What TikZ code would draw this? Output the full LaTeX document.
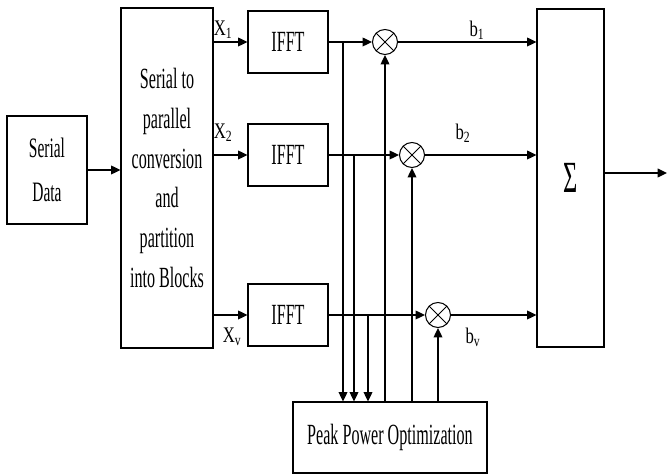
\documentclass[tikz,border=0pt]{standalone}
\usepackage{fontspec}
\newfontfamily\narrowserif{Liberation Serif}[FakeStretch=0.55]
\newfontfamily\labelserif{Liberation Serif}[FakeStretch=0.75]
\usetikzlibrary{arrows.meta, positioning}

\begin{document}
\begin{tikzpicture}[
  x=0.3mm, y=-0.3mm,
  >={Triangle[length=2.8mm, width=2.6mm]},
  every node/.style={font=\narrowserif\fontsize{25}{34}\selectfont},
  blockstyle/.style={draw, line width=0.9pt, align=center, inner sep=2pt},
  mixstyle/.style={draw, circle, line width=0.9pt, minimum size=7.5mm, inner sep=0pt,
    path picture={\draw[line width=0.8pt]
      (path picture bounding box.north west) -- (path picture bounding box.south east)
      (path picture bounding box.north east) -- (path picture bounding box.south west);}},
  link/.style={line width=1.2pt},
  tag/.style={font=\labelserif\fontsize{19}{19}\selectfont}
]
\useasboundingbox (0,0) rectangle (668,476);
% blocks
\node[blockstyle, minimum width=24mm, minimum height=32.4mm,
      font=\narrowserif\fontsize{24}{38}\selectfont] (serial) at (47,170) {Serial\\Data};
\node[blockstyle, minimum width=27.6mm, minimum height=102mm] (sp) at (167,178)
  {Serial to\\parallel\\conversion\\and\\partition\\into Blocks};
\foreach \n/\y in {1/42, 2/155, 3/315}
  \node[blockstyle, minimum width=24mm, minimum height=18.6mm] (ifft\n) at (288,\y) {IFFT};
\node[mixstyle] (mix1) at (385,42) {};
\node[mixstyle] (mix2) at (412,155) {};
\node[mixstyle] (mix3) at (438,315) {};
\node[blockstyle, minimum width=20.1mm, minimum height=101.4mm,
      font=\narrowserif\fontsize{38}{38}\selectfont] (sum) at (570.5,178) {\raisebox{-1mm}{Σ}};
\node[blockstyle, minimum width=58.2mm, minimum height=21.3mm] (ppo) at (390,437.5)
  {Peak Power Optimization};
% helper points
\coordinate (out) at (667,173);
\coordinate (tap1) at (343,0);
\coordinate (tap2) at (354,0);
\coordinate (tap3) at (368,0);
% connectors
\draw[link,->] (serial.east) -- (serial.east -| sp.west);
\foreach \n in {1,2,3}{
  \draw[link,->] (ifft\n.west -| sp.east) -- (ifft\n.west);
  \draw[link,->] (ifft\n.east) -- (mix\n.west);
  \draw[link,->] (mix\n.east) -- (mix\n.east -| sum.west);
  \draw[link,->] (tap\n |- ifft\n.east) -- (tap\n |- ppo.north);
  \draw[link,->] (mix\n |- ppo.north) -- (mix\n.south);
}
\draw[link,->] (sum.east |- out) -- (out);
% labels
\node[tag] (x1) at (223,30) {X\textsubscript{1}};
\node[tag] (x2) at (223,133) {X\textsubscript{2}};
\node[tag] (xv) at (232,337) {X\textsubscript{v}};
\node[tag] (b1) at (477,30) {b\textsubscript{1}};
\node[tag] (b2) at (463,133) {b\textsubscript{2}};
\node[tag] (bv) at (473,337) {b\textsubscript{v}};
\end{tikzpicture}
\end{document}
